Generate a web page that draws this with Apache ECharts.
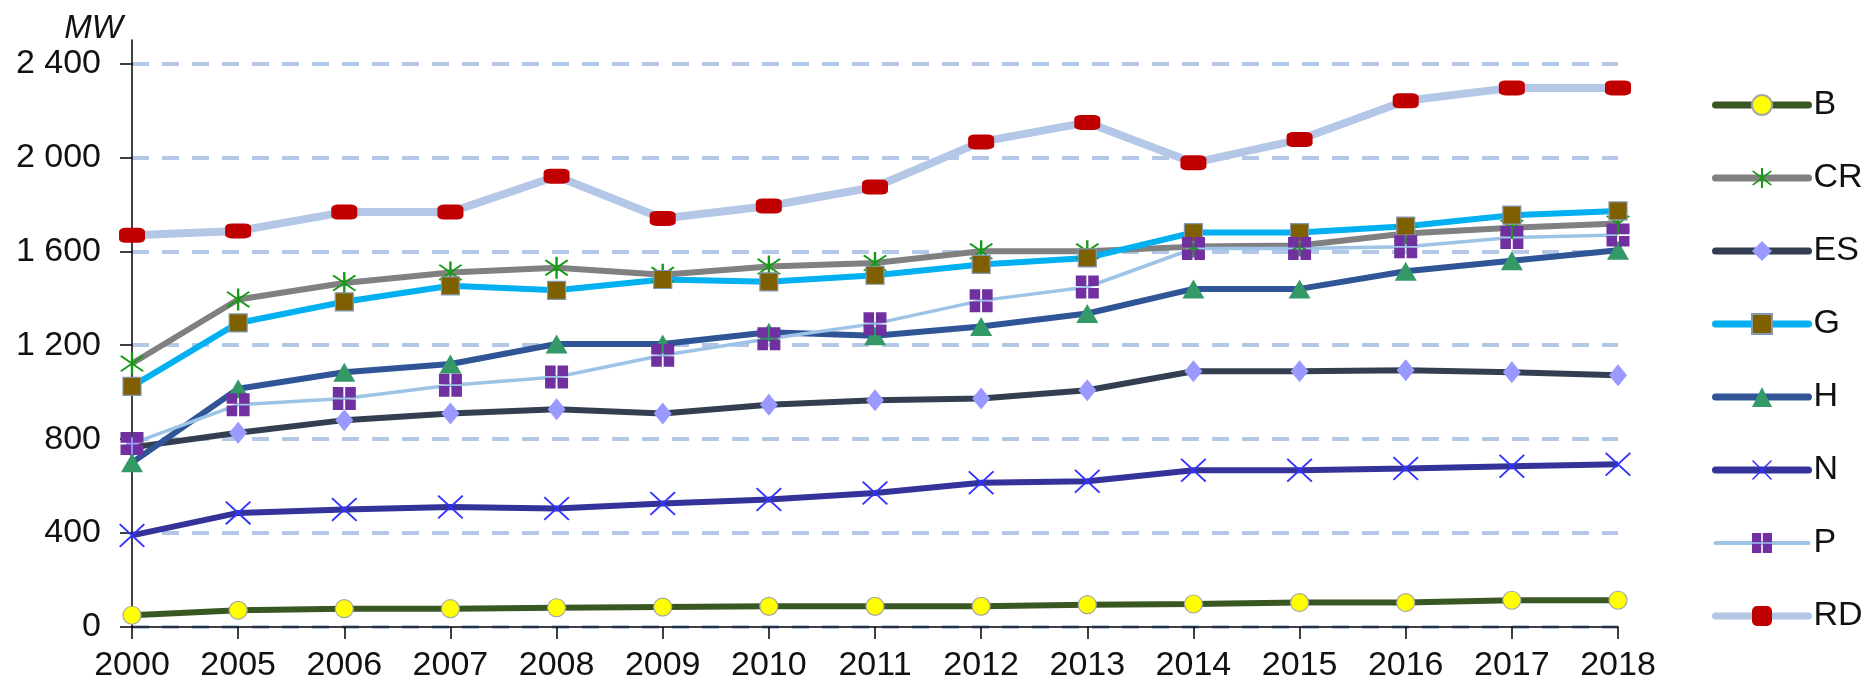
<!DOCTYPE html>
<html>
<head>
<meta charset="utf-8">
<script src="https://cdn.jsdelivr.net/npm/echarts@6/dist/echarts.min.js"></script>
<style>
  html, body { margin: 0; padding: 0; background: #fff; }
  #chart { width: 1868px; height: 683px; }
</style>
</head>
<body>
<div id="chart"></div>
<script>
// years on the x axis
var years = ['2000', '2005', '2006', '2007', '2008', '2009', '2010', '2011', '2012',
  '2013', '2014', '2015', '2016', '2017', '2018'];
// y axis ticks (MW)
var yTicks = [0, 400, 800, 1200, 1600, 2000, 2400];

// installed capacity per region, MW
var B  = [50, 71, 78, 78, 82, 85, 88, 88, 88, 95, 98, 104, 104, 114, 114];
var CR = [1122, 1395, 1465, 1510, 1530, 1500, 1535, 1550, 1600, 1600, 1620, 1625, 1676, 1700, 1718];
var ES = [765, 827, 881, 909, 927, 909, 947, 966, 973, 1008, 1089, 1089, 1094, 1085, 1072];
var G  = [1025, 1295, 1385, 1453, 1434, 1480, 1470, 1498, 1544, 1572, 1680, 1680, 1707, 1754, 1772];
var H  = [700, 1015, 1085, 1120, 1205, 1205, 1255, 1240, 1280, 1335, 1440, 1440, 1515, 1560, 1605];
var N  = [390, 486, 500, 511, 505, 526, 543, 571, 614, 621, 668, 668, 675, 685, 693];
var P  = [781, 947, 973, 1030, 1065, 1157, 1228, 1292, 1390, 1448, 1612, 1612, 1619, 1659, 1669];
var RD = [1668, 1687, 1767, 1767, 1920, 1740, 1793, 1874, 2066, 2149, 1977, 2076, 2241, 2296, 2296];

var FONT = "'Liberation Sans', Arial, sans-serif";

// marker shapes that echarts does not have
var starPath = 'path://M9.25 0H10.75V20H9.25Z' +
  'M3.53 2.47L17.53 16.47L16.47 17.53L2.47 3.53Z' +
  'M17.53 3.53L3.53 17.53L2.47 16.47L16.47 2.47Z';
var crossPath = 'path://M1.06 0L20 18.94L18.94 20L0 1.06Z' +
  'M20 1.06L1.06 20L0 18.94L18.94 0Z';
var gridSquarePath = 'path://M0 0H9.2V9.2H0Z M10.8 0H20V9.2H10.8Z' +
  'M0 10.8H9.2V20H0Z M10.8 10.8H20V20H10.8Z';

var legendItems = [];

function makeSeries(name, values, lineColor, lineWidth, symbol, size, fill, border) {
  // legend icon: same line, a bit thicker with round ends
  legendItems.push({
    name: name,
    lineStyle: { width: lineWidth < 5 ? 4 : 7, cap: 'round' }
  });
  return {
    name: name,
    type: 'line',
    data: values,
    symbol: symbol,
    symbolSize: size,
    showAllSymbol: true,
    lineStyle: { color: lineColor, width: lineWidth },
    itemStyle: {
      color: fill,
      borderColor: border || fill,
      borderWidth: border ? 1.2 : 0
    },
    emphasis: { disabled: true }
  };
}

function fmtThousands(v) {
  if (v < 1000) return String(v);
  var rest = String(v % 1000);
  while (rest.length < 3) rest = '0' + rest;
  return Math.floor(v / 1000) + ' ' + rest;
}

var series = [
  makeSeries('B', B, '#385723', 6, 'circle', 18, '#ffff00', '#a6a6a6'),
  makeSeries('CR', CR, '#808080', 6, starPath, [24, 22], '#169b16'),
  makeSeries('ES', ES, '#333f50', 6, 'diamond', [18, 22], '#9999ff'),
  makeSeries('G', G, '#00b0f0', 6, 'rect', 18, '#7f6000', '#8497b0'),
  makeSeries('H', H, '#2f5597', 6, 'triangle', [22, 19], '#339966'),
  makeSeries('N', N, '#333399', 6, crossPath, [26, 24], '#3333ff'),
  makeSeries('P', P, '#9dc3e6', 3.5, gridSquarePath, 23, '#7030a0'),
  makeSeries('RD', RD, '#b4c7e7', 8, 'roundRect', [26, 15], '#c00000')
];

var option = {
  animation: false,
  backgroundColor: '#fff',
  textStyle: { fontFamily: FONT },
  grid: { left: 132, right: 250, top: 40, bottom: 56 },
  legend: {
    orient: 'vertical',
    left: 1707,
    top: 83,
    itemWidth: 93,
    itemHeight: 25,
    itemGap: 39,
    textStyle: { fontSize: 34, color: '#111', fontFamily: FONT },
    data: legendItems
  },
  xAxis: {
    type: 'category',
    data: years,
    boundaryGap: false,
    axisLine: { lineStyle: { color: '#000', width: 1.5 } },
    axisTick: { length: 12, lineStyle: { color: '#000', width: 1.5 } },
    axisLabel: { fontSize: 34, color: '#111', margin: 22, fontFamily: FONT },
    splitLine: { show: false }
  },
  yAxis: {
    type: 'value',
    min: 0,
    max: 2500,
    interval: 400,
    name: 'MW',
    nameLocation: 'end',
    nameGap: 11,
    nameTextStyle: {
      fontSize: 33, fontStyle: 'italic', color: '#111', fontFamily: FONT,
      align: 'right', verticalAlign: 'middle', padding: [0, 9, 0, 0]
    },
    axisLine: { show: true, lineStyle: { color: '#000', width: 1.5 } },
    axisTick: { show: true, length: 12, customValues: yTicks, lineStyle: { color: '#000', width: 1.5 } },
    axisLabel: {
      fontSize: 34, color: '#111', margin: 31, fontFamily: FONT,
      customValues: yTicks,
      formatter: fmtThousands
    },
    splitLine: {
      show: true,
      lineStyle: { color: '#b4c7e7', width: 4, type: [17, 13] }
    }
  },
  series: series
};

var chart = echarts.init(document.getElementById('chart'));
chart.setOption(option, true);
</script>
</body>
</html>
